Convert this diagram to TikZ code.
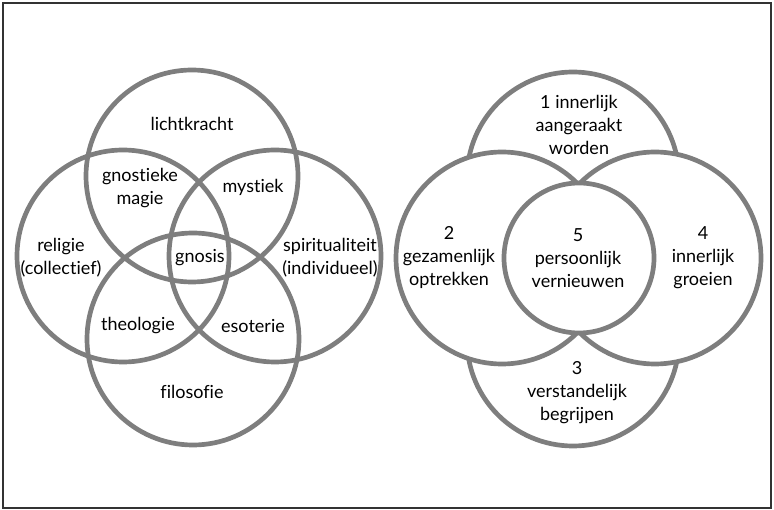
\documentclass[tikz,border=0pt]{standalone}
\usepackage{fontspec}
\setmainfont{Lato}[Ligatures=NoCommon]
\definecolor{ringgray}{HTML}{7E7E7E}
\definecolor{framegray}{HTML}{333333}
\begin{document}
\begin{tikzpicture}[x=1pt,y=-1pt,
  ring/.style={draw=ringgray,line width=4.7pt},
  ringw/.style={ring,fill=white},
  lbl/.style={align=center,inner sep=0pt,font=\fontsize{18}{23}\selectfont,text=black}]
\useasboundingbox (0,0) rectangle (774,510);
\draw[framegray,line width=1.6pt] (3,3) rectangle (771,508);
% left diagram
\draw[ring] (192,176) circle[radius=106];
\draw[ring] (193,339) circle[radius=106];
\draw[ring] (123,256) circle[radius=106];
\draw[ring] (275,256) circle[radius=106];
\node[lbl] (licht) at (192,124) {lichtkracht};
\node[lbl] (gmag) at (140,188) {gnostieke\\magie};
\node[lbl] (myst) at (253,187) {mystiek};
\node[lbl] (reli) at (61,258) {religie\\(collectief)};
\node[lbl] (gnos) at (200,258) {gnosis};
\node[lbl] (spir) at (330,258) {spiritualiteit\\(individueel)};
\node[lbl] (theo) at (138,326) {theologie};
\node[lbl] (esot) at (253,326) {esoterie};
\node[lbl] (filo) at (192,392) {filosofie};
% right diagram
\draw[ringw] (573,178) circle[radius=106];
\draw[ringw] (573,340) circle[radius=106];
\draw[ringw] (502,258) circle[radius=106];
\draw[ringw] (655,258) circle[radius=106];
\draw[ringw] (579,258) circle[radius=75];
\node[lbl] (one) at (579,125) {1 innerlijk\\aangeraakt\\worden};
\node[lbl] (two) at (449,258) {2\\gezamenlijk\\optrekken};
\node[lbl] (five) at (578,258) {5\\persoonlijk\\vernieuwen};
\node[lbl] (four) at (703,258) {4\\innerlijk\\groeien};
\node[lbl] (three) at (577,393) {3\\verstandelijk\\begrijpen};
\end{tikzpicture}
\end{document}
